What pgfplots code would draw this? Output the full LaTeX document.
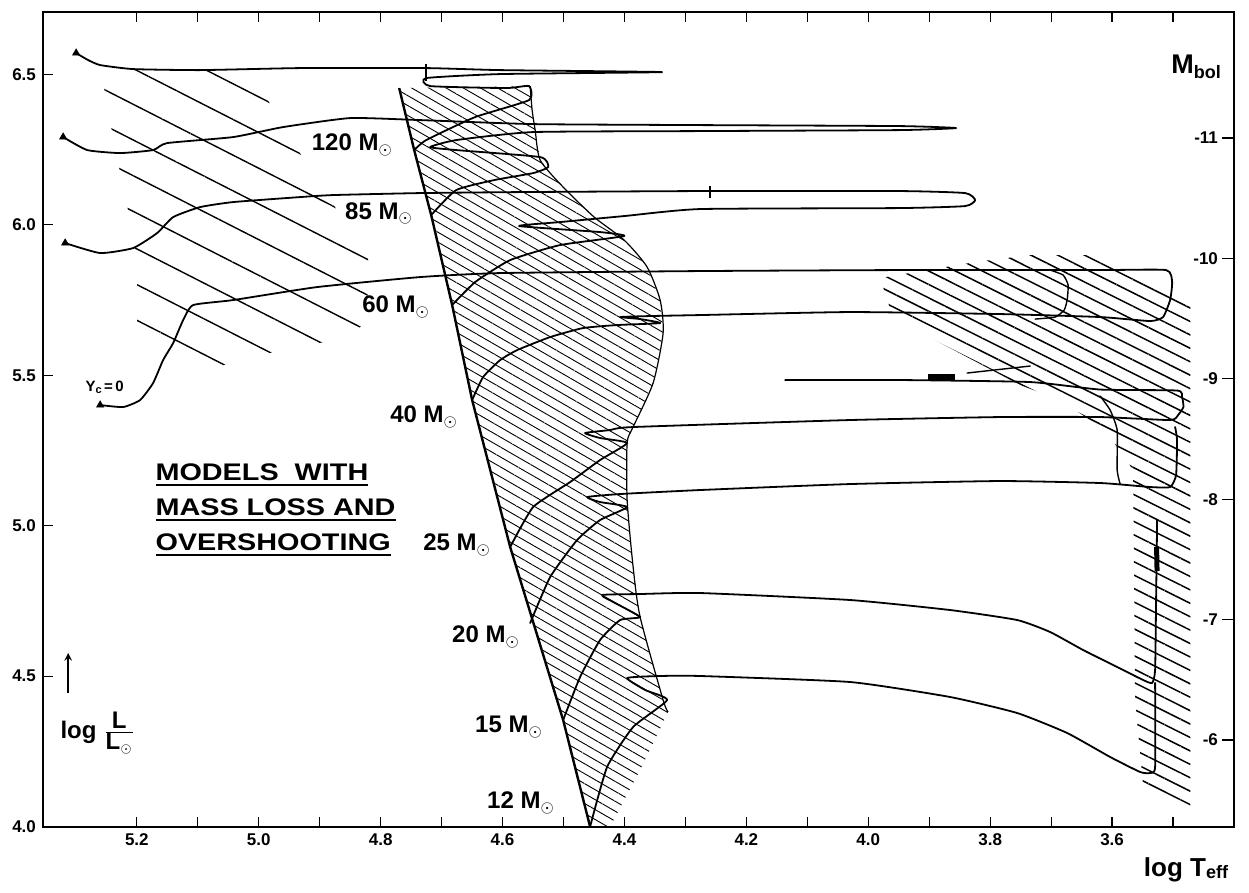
\documentclass[border=0pt]{standalone}
\usepackage{pgfplots}
\pgfplotsset{compat=1.18}
\usepackage{fontspec}
\setmainfont{Liberation Sans}
\newfontfamily\widefont{Liberation Sans}[FakeStretch=1.2]
\usetikzlibrary{patterns.meta}
\newcommand\ulbox[1]{\setbox0\hbox{#1}\rlap{\rule[-2.8pt]{\wd0}{1pt}}\box0}
\pgfplotsset{track/.style={black, line width=0.9pt, line join=round, line cap=round, mark=none, smooth, tension=0.3}}
\begin{document}
\begin{tikzpicture}
\useasboundingbox (-21.5pt,-33.15pt) rectangle (603pt,413.35pt);
\begin{axis}[
  scale only axis, width=595.5pt, height=407.5pt,
  x dir=reverse, xmin=3.40, xmax=5.354, ymin=4.0, ymax=6.708,
  axis line style={line width=1pt},
  tick align=inside,
  xtick={3.6,3.8,4.0,4.2,4.4,4.6,4.8,5.0,5.2},
  minor xtick={3.5,3.7,3.9,4.1,4.3,4.5,4.7,4.9,5.1},
  ytick={4.0,4.5,5.0,5.5,6.0,6.5},
  xtick pos=both, xticklabel pos=lower, ytick pos=left,
  major tick length=5pt, minor tick length=5pt,
  every tick/.style={black, line width=0.6pt},
  tick label style={font=\bfseries\fontsize{8.5}{9}\selectfont, /pgf/number format/assume math mode=true},
  xticklabel style={/pgf/number format/fixed, /pgf/number format/fixed zerofill, /pgf/number format/precision=1},
  yticklabel style={/pgf/number format/fixed, /pgf/number format/fixed zerofill, /pgf/number format/precision=1},
  xlabel={\bfseries\fontsize{13}{15}\selectfont log T\raisebox{-1pt}{\fontsize{9}{10}\selectfont eff}},
  xlabel style={at={(axis description cs:0.9597,-0.0531)}, anchor=center},
]
% ---- hatched regions ----
\addplot[draw=none, pattern={Lines[angle=-27,distance=15.9pt,line width=0.7pt]}] coordinates {
(5.2553,6.4708) (5.2061,6.5139) (5.0141,6.5139) (4.9485,6.2880) (4.8205,5.8894) (4.8222,5.6767)
(4.8632,5.6169) (4.9288,5.6003) (5.0420,5.5439) (5.0929,5.5106) (5.1995,5.6435) (5.1995,5.8595)
(5.2061,5.9724) (5.2192,6.0920) (5.2323,6.2216) (5.2438,6.3412)} -- cycle;
\addplot[draw=none, pattern={Lines[angle=-30,distance=4.3pt,line width=0.45pt]}] coordinates {
(4.7696,6.4542) (4.5547,6.4608) (4.5515,6.3811) (4.5465,6.3146) (4.5383,6.2149) (4.5006,6.1252)
(4.4498,6.0256) (4.4005,5.9492) (4.3628,5.8595) (4.3415,5.7498) (4.3366,5.6402) (4.3530,5.4741)
(4.3858,5.3279) (4.3956,5.2748) (4.3956,5.0854) (4.3858,4.8628) (4.3743,4.6967) (4.3366,4.4209)
(4.3284,4.3811) (4.3743,4.1884) (4.4235,4.0) (4.4564,4.0) (4.5006,4.3545) (4.5875,4.9292)
(4.6499,5.4176) (4.6827,5.7332) (4.7171,6.0322) (4.7450,6.2482)} -- cycle;
\addplot[draw=none, pattern={Lines[angle=-26.6,distance=6pt,line width=0.75pt]}] coordinates {
(3.9806,5.8229) (3.8247,5.8761) (3.7344,5.8993) (3.6245,5.8993) (3.4716,5.7498) (3.4716,4.0654)
(3.5491,4.1385) (3.5622,4.4209) (3.5655,5.1851) (3.6114,5.3179) (3.6852,5.4176) (3.7508,5.4674)
(3.9592,5.6900)} -- cycle;
% ---- ZAMS and band edge ----
\addplot[black, line width=1.2pt] coordinates {
(4.7696,6.4542) (4.7450,6.2482) (4.7171,6.0322) (4.6827,5.7332) (4.6499,5.4176) (4.5875,4.9292)
(4.5006,4.3545) (4.4564,4.0)};
\addplot[black, line width=0.6pt, smooth, tension=0.4] coordinates {
(4.5547,6.4608) (4.5515,6.3811) (4.5465,6.3146) (4.5383,6.2149) (4.5006,6.1252) (4.4498,6.0256)
(4.4005,5.9492) (4.3628,5.8595) (4.3415,5.7498) (4.3366,5.6402) (4.3530,5.4741) (4.3858,5.3279)
(4.3956,5.2748) (4.3956,5.0854) (4.3858,4.8628) (4.3743,4.6967) (4.3366,4.4209) (4.3284,4.3811)};
% ---- 120 Msun ----
\addplot[track] coordinates {
(4.7450,6.2482) (4.7253,6.2814) (4.6450,6.3578) (4.5564,6.4143) (4.5564,6.4608) (4.5941,6.4542)
(4.7188,6.4608) (4.7253,6.4874) (4.6039,6.5007) (4.3382,6.5073) (4.6039,6.5139) (4.7253,6.5206)
(4.9321,6.5206) (5.0961,6.5139) (5.2061,6.5173) (5.2602,6.5306) (5.2799,6.5472) (5.2996,6.5704)};
\addplot[black, line width=0.8pt] coordinates {(4.7253,6.535) (4.7253,6.478)};
% ---- 85 Msun ----
\addplot[track] coordinates {
(4.7171,6.0322) (4.6761,6.1153) (4.6137,6.1485) (4.5498,6.1717) (4.5252,6.1917) (4.5383,6.2249)
(4.6761,6.2482) (4.7188,6.2581) (4.6761,6.2814) (4.5498,6.3080) (4.2759,6.3113) (3.9477,6.3146)
(3.8559,6.3213) (3.9477,6.3279) (4.2759,6.3312) (4.5498,6.3345) (4.7352,6.3478) (4.8500,6.3545)
(4.9600,6.3246) (5.0420,6.2914) (5.1503,6.2714) (5.1733,6.2482) (5.2274,6.2382) (5.2815,6.2482)
(5.3209,6.2914)};
% ---- 60 Msun ----
\addplot[track] coordinates {
(4.6827,5.7332) (4.6450,5.8096) (4.5875,5.8827) (4.5055,5.9326) (4.4005,5.9625) (4.4400,5.9757)
(4.5728,5.9957) (4.5055,6.0090) (4.4005,6.0289) (4.2759,6.0522) (3.9477,6.0555) (3.8411,6.0621)
(3.8247,6.0821) (3.8411,6.1053) (3.9477,6.1120) (4.2759,6.1120) (4.5711,6.1086) (4.7352,6.1053)
(4.8779,6.0987) (4.9321,6.0920) (5.0420,6.0754) (5.0961,6.0588) (5.1404,6.0256) (5.1667,5.9724)
(5.2061,5.9226) (5.2602,5.9060) (5.3176,5.9392)};
\addplot[black, line width=0.8pt] coordinates {(4.2595,6.128) (4.2595,6.090)};
% ---- 40 Msun ----
\addplot[track] coordinates {
(4.6499,5.4176) (4.6319,5.4940) (4.6039,5.5505) (4.5760,5.5837) (4.5219,5.6269) (4.4678,5.6568)
(4.4120,5.6668) (4.3415,5.6734) (4.3743,5.6867) (4.4071,5.6934) (4.3579,5.6967) (4.2759,5.7000)
(4.0298,5.7100) (3.7836,5.7033) (3.6196,5.6934) (3.5376,5.6801) (3.5163,5.6934) (3.5048,5.7498)
(3.5015,5.8096) (3.5114,5.8495) (3.6196,5.8495) (3.9477,5.8495) (4.2759,5.8462) (4.6039,5.8395)
(4.7352,5.8262) (4.9042,5.7930) (5.0420,5.7498) (5.1076,5.7332) (5.1240,5.6834) (5.1404,5.6070)
(5.1569,5.5505) (5.1733,5.4741) (5.1946,5.4176) (5.2225,5.3943) (5.2602,5.4010)};
\addplot[track, line width=0.7pt] coordinates {
(3.7016,5.8495) (3.6803,5.8329) (3.6721,5.7997) (3.6737,5.7498) (3.6786,5.7166) (3.6933,5.6934) (3.7262,5.6867)};
% ---- 25 Msun ----
\addplot[track] coordinates {
(4.5875,4.9292) (4.5498,5.0621) (4.4891,5.1452) (4.4400,5.2183) (4.3956,5.2748) (4.4400,5.2914)
(4.4646,5.3080) (4.4235,5.3179) (4.3858,5.3279) (4.0298,5.3512) (3.7836,5.3611) (3.6196,5.3611)
(3.5048,5.3512) (3.4917,5.3678) (3.4830,5.3943) (3.4852,5.4276) (3.4934,5.4492) (3.6196,5.4525)
(3.7344,5.4774) (3.9477,5.4841) (4.1364,5.4841)};
\addplot[track, line width=0.7pt] coordinates {(3.8378,5.5073) (3.7344,5.5306)};
\addplot[black, line width=3pt] coordinates {(3.9017,5.494) (3.8574,5.494)};
% ---- 20 Msun ----
\addplot[track] coordinates {
(4.5547,4.6767) (4.5219,4.8296) (4.4777,4.9525) (4.4400,5.0189) (4.3956,5.0621) (4.4400,5.0787)
(4.4613,5.0953) (4.4071,5.1053) (4.2759,5.1186) (4.0298,5.1385) (3.7836,5.1485) (3.6196,5.1419)
(3.5376,5.1286) (3.5048,5.1286) (3.4950,5.1684) (3.4934,5.2847) (3.4966,5.3279)};
\addplot[track, line width=0.7pt] coordinates {
(3.6196,5.4309) (3.6032,5.3844) (3.5917,5.3179) (3.5917,5.1851) (3.5868,5.1385)};
% ---- 15 Msun ----
\addplot[track] coordinates {
(4.5006,4.3545) (4.4728,4.4973) (4.4400,4.6203) (4.4071,4.6867) (4.3743,4.6967) (4.4153,4.7432)
(4.4367,4.7698) (4.3743,4.7731) (4.2759,4.7764) (4.0298,4.7532) (3.8657,4.7199) (3.7557,4.6867)
(3.7016,4.6468) (3.6475,4.5870) (3.5917,4.5306) (3.5491,4.4874) (3.5343,4.4774) (3.5294,4.5206)
(3.5278,4.7532) (3.5261,5.0189)};
\addplot[black, line width=2.5pt] coordinates {(3.5270,4.93) (3.5262,4.85)};
% ---- 12 Msun ----
\addplot[track] coordinates {
(4.4564,4.0) (4.4285,4.1983) (4.3858,4.3312) (4.3300,4.4209) (4.3660,4.4541) (4.3956,4.4940)
(4.3415,4.5007) (4.2759,4.5007) (4.0298,4.4807) (3.8657,4.4309) (3.7557,4.3777) (3.6737,4.3113)
(3.6032,4.2316) (3.5540,4.1817) (3.5376,4.1784) (3.5294,4.1983) (3.5294,4.4774)};
% ---- end points ----
\addplot[only marks, mark=triangle*, mark size=2pt, black] coordinates {
(5.2996,6.5704) (5.3209,6.2914) (5.3176,5.9392) (5.2602,5.4010)};
% ---- labels ----
\begin{scope}[every node/.style={font=\bfseries\fontsize{12}{14}\selectfont, inner sep=1pt}]
\node[anchor=east] at (axis cs:4.7762,6.2648) {120 M$_\odot$};
\node[anchor=east] at (axis cs:4.7434,6.0382) {85 M$_\odot$};
\node[anchor=east] at (axis cs:4.7152,5.7266) {60 M$_\odot$};
\node[anchor=east] at (axis cs:4.6694,5.3611) {40 M$_\odot$};
\node[anchor=east] at (axis cs:4.6152,4.9359) {25 M$_\odot$};
\node[anchor=east] at (axis cs:4.5678,4.6302) {20 M$_\odot$};
\node[anchor=east] at (axis cs:4.5301,4.3312) {15 M$_\odot$};
\node[anchor=east] at (axis cs:4.5104,4.0787) {12 M$_\odot$};
\end{scope}
\begin{scope}[every node/.style={font=\widefont\bfseries\fontsize{12}{14}\selectfont, inner sep=0pt, anchor=base west}]
\node at (axis cs:5.1700,5.1518) {\ulbox{MODELS\ \ WITH}};
\node at (axis cs:5.1700,5.0355) {\ulbox{MASS LOSS AND}};
\node at (axis cs:5.1700,4.9193) {\ulbox{OVERSHOOTING}};
\end{scope}
\node[font=\bfseries\fontsize{7.5}{9}\selectfont, anchor=west, inner sep=0pt] at (axis cs:5.2848,5.4608) {Y\raisebox{-1pt}{\fontsize{5.5}{6}\selectfont c}\,=\,0};
\node[font=\bfseries\fontsize{12}{14}\selectfont, anchor=west, inner sep=0pt] at (axis cs:5.3258,4.3113) {log $\frac{\mbox{\bfseries L}}{\mbox{\bfseries L}_\odot}$};
\draw[-stealth, line width=0.7pt] (axis cs:5.3127,4.4442) -- (axis cs:5.3127,4.5771);
\node[font=\bfseries, anchor=center] at (axis cs:3.4620,6.5239) {{\fontsize{13.5}{15}\selectfont M}\raisebox{-2.5pt}{\fontsize{9}{10}\selectfont bol}};
\end{axis}
\begin{axis}[
  scale only axis, width=595.5pt, height=407.5pt,
  hide x axis, xmin=0, xmax=1,
  ymin=-12.05, ymax=-5.28, y dir=reverse,
  ytick={-11,-10,-9,-8,-7,-6},
  ytick pos=right, yticklabel pos=right,
  tick align=inside, major tick length=6pt,
  every tick/.style={black, line width=0.6pt},
  axis line style={line width=1pt},
  yticklabel style={anchor=east, xshift=-4.5pt, font=\bfseries\fontsize{8.5}{9}\selectfont, /pgf/number format/assume math mode=true},
]
\addplot[draw=none] coordinates {(0.5,-8)};
\end{axis}
\end{tikzpicture}
\end{document}
